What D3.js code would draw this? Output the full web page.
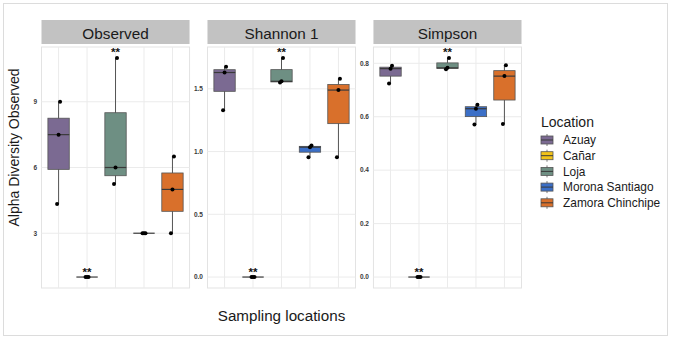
<!DOCTYPE html>
<html>
<head>
<meta charset="utf-8">
<script src="https://cdn.jsdelivr.net/npm/d3@7"></script>
<style>
  html, body { margin: 0; padding: 0; background: #fff; }
  svg { display: block; font-family: "Liberation Sans", Arial, sans-serif; }
</style>
</head>
<body>
<div id="chart"></div>
<script>
// Alpha diversity by sampling location, three facets
const LOCATIONS = ['Azuay', 'Cañar', 'Loja', 'Morona Santiago', 'Zamora Chinchipe'];
const LOC_COLORS = ['#7b6a92', '#f2c31a', '#6e8f83', '#3b6fc7', '#d9702b'];
const METRICS = ['Observed', 'Shannon 1', 'Simpson'];

// sample values per location (3 samples each)
const observedValues = [[4.33, 7.5, 9], [1, 1, 1], [5.25, 6, 11], [3, 3, 3], [3, 5, 6.5]];
const shannonValues  = [[1.33, 1.63, 1.675], [0, 0, 0], [1.55, 1.56, 1.746], [0.955, 1.035, 1.048], [0.955, 1.49, 1.58]];
const simpsonValues  = [[0.724, 0.78, 0.791], [0, 0, 0], [0.778, 0.783, 0.82], [0.571, 0.63, 0.645], [0.573, 0.752, 0.793]];

const observedTicks = [3, 6, 9];
const shannonTicks  = [0, 0.5, 1, 1.5];
const simpsonTicks  = [0, 0.2, 0.4, 0.6, 0.8];

// significance marks: location -> label
const significance = [['Cañar', '**'], ['Loja', '**']];

const W = 677, H = 338;
const PLOT_TOP = 47, PLOT_BOTTOM = 288;
const STRIP_TOP = 20, STRIP_BOTTOM = 44;

const panels = [
  { name: METRICS[0], values: observedValues, ticks: observedTicks, fmt: d3.format('d') },
  { name: METRICS[1], values: shannonValues,  ticks: shannonTicks,  fmt: d3.format('.1f') },
  { name: METRICS[2], values: simpsonValues,  ticks: simpsonTicks,  fmt: d3.format('.1f') }
];

const svg = d3.select('#chart').append('svg')
  .attr('width', W).attr('height', H);

// outer frame
svg.append('rect')
  .attr('x', 3.5).attr('y', 3.5).attr('width', 664).attr('height', 332)
  .attr('fill', '#fff').attr('stroke', '#dcdcdc');

const facetX = d3.scaleBand().domain(METRICS).range([41.5, 521.5]).paddingInner(0.108);
const pw = facetX.bandwidth();

panels.forEach(p => {
  const all = p.values.flat();
  const [lo, hi] = d3.extent(all);
  const pad = (hi - lo) * 0.05;
  const y = d3.scaleLinear().domain([lo - pad, hi + pad]).range([PLOT_BOTTOM, PLOT_TOP]);
  const x = d3.scalePoint().domain(LOCATIONS).range([0, pw]).padding(0.6);
  const bw = x.step() * 0.75;

  const g = svg.append('g').attr('transform', `translate(${facetX(p.name)},0)`);

  // strip
  g.append('rect')
    .attr('x', 0).attr('y', STRIP_TOP).attr('width', pw).attr('height', STRIP_BOTTOM - STRIP_TOP)
    .attr('fill', '#c2c2c2');
  g.append('text')
    .attr('x', pw / 2).attr('y', 38.5)
    .attr('text-anchor', 'middle')
    .attr('font-size', 15.3).attr('fill', '#1a1a1a')
    .text(p.name);

  // panel border + grid
  g.append('rect')
    .attr('x', 0).attr('y', PLOT_TOP).attr('width', pw).attr('height', PLOT_BOTTOM - PLOT_TOP)
    .attr('fill', '#fff').attr('stroke', '#e3e3e3');

  g.append('g').selectAll('line.hgrid')
    .data(p.ticks)
    .join('line')
      .attr('x1', 0).attr('x2', pw)
      .attr('y1', d => y(d)).attr('y2', d => y(d))
      .attr('stroke', '#ebebeb').attr('stroke-width', 1);

  g.append('g').selectAll('line.vgrid')
    .data(LOCATIONS)
    .join('line')
      .attr('x1', d => x(d)).attr('x2', d => x(d))
      .attr('y1', PLOT_TOP).attr('y2', PLOT_BOTTOM)
      .attr('stroke', '#ebebeb').attr('stroke-width', 1);

  // y tick labels
  g.append('g').selectAll('text')
    .data(p.ticks)
    .join('text')
      .attr('x', -4.5).attr('y', d => y(d))
      .attr('dy', '0.35em')
      .attr('text-anchor', 'end')
      .attr('font-size', 6.5).attr('font-weight', 'bold').attr('fill', '#3a3a3a')
      .text(d => p.fmt(d));

  // boxplots
  const stats = p.values.map((vals, i) => {
    const s = vals.slice().sort(d3.ascending);
    return {
      loc: LOCATIONS[i], color: LOC_COLORS[i], vals: s,
      q1: d3.quantile(s, 0.25), med: d3.quantile(s, 0.5), q3: d3.quantile(s, 0.75),
      min: s[0], max: s[s.length - 1]
    };
  });

  const box = g.append('g').selectAll('g.box')
    .data(stats)
    .join('g')
      .attr('transform', d => `translate(${x(d.loc)},0)`);

  box.append('line')
    .attr('x1', 0).attr('x2', 0)
    .attr('y1', d => y(d.min)).attr('y2', d => y(d.max))
    .attr('stroke', '#555').attr('stroke-width', 1);

  box.append('rect')
    .attr('x', -bw / 2).attr('width', bw)
    .attr('y', d => y(d.q3))
    .attr('height', d => Math.max(0, y(d.q1) - y(d.q3)))
    .attr('fill', d => d.color)
    .attr('stroke', '#555').attr('stroke-width', 0.8);

  box.append('line')
    .attr('x1', -bw / 2).attr('x2', bw / 2)
    .attr('y1', d => y(d.med)).attr('y2', d => y(d.med))
    .attr('stroke', '#3a3a3a').attr('stroke-width', 1.2);

  // sample points, small fixed horizontal spread by index
  box.selectAll('circle')
    .data(d => d.vals)
    .join('circle')
      .attr('cx', (d, i) => (i - 1) * 1.5)
      .attr('cy', d => y(d))
      .attr('r', 2)
      .attr('fill', '#000');

  // significance stars
  significance.forEach(([loc, label]) => {
    const s = stats.find(d => d.loc === loc);
    g.append('text')
      .attr('x', x(loc)).attr('y', y(s.max) - 1.5)
      .attr('text-anchor', 'middle')
      .attr('font-size', 11.5).attr('font-weight', 'bold').attr('fill', '#111')
      .text(label);
  });
});

// axis titles
svg.append('text')
  .attr('transform', `translate(19,147.5) rotate(-90)`)
  .attr('text-anchor', 'middle')
  .attr('font-size', 14).attr('fill', '#1a1a1a')
  .text('Alpha Diversity Observed');

svg.append('text')
  .attr('x', (facetX.range()[0] + facetX.range()[1]) / 2).attr('y', 321)
  .attr('text-anchor', 'middle')
  .attr('font-size', 15.2).attr('fill', '#1a1a1a')
  .text('Sampling locations');

// legend
const legend = svg.append('g').attr('transform', 'translate(541,0)');
legend.append('text')
  .attr('x', 0).attr('y', 127)
  .attr('font-size', 14).attr('fill', '#1a1a1a')
  .text('Location');

const key = legend.selectAll('g.key')
  .data(LOCATIONS)
  .join('g')
    .attr('transform', (d, i) => `translate(0,${140 + i * 15.7})`);

key.append('line')
  .attr('x1', 6).attr('x2', 6).attr('y1', -6).attr('y2', 6)
  .attr('stroke', '#555').attr('stroke-width', 0.8);
key.append('rect')
  .attr('x', 0).attr('y', -4).attr('width', 12).attr('height', 8)
  .attr('fill', (d, i) => LOC_COLORS[i])
  .attr('stroke', '#555').attr('stroke-width', 0.8);
key.append('line')
  .attr('x1', 0).attr('x2', 12).attr('y1', 0).attr('y2', 0)
  .attr('stroke', '#3a3a3a').attr('stroke-width', 1);
key.append('text')
  .attr('x', 22).attr('y', 0).attr('dy', '0.35em')
  .attr('font-size', 11.9).attr('fill', '#1a1a1a')
  .text(d => d);
</script>
</body>
</html>
